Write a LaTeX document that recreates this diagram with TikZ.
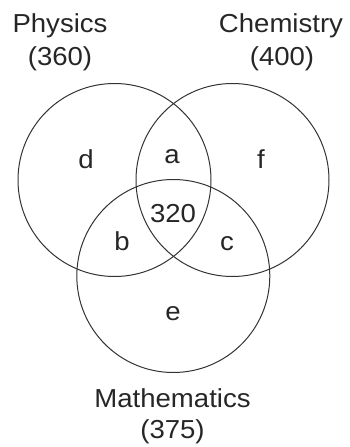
\documentclass[tikz,border=0pt]{standalone}
\usepackage{fontspec}
\setmainfont{Liberation Sans}[FakeStretch=1.06]
\usetikzlibrary{positioning}

\begin{document}
\begin{tikzpicture}[
      x=1pt, y=-1pt,
      font=\fontsize{26}{32}\selectfont,
      setc/.style={draw=black!80, line width=1pt, circle, minimum size=193pt, inner sep=0pt},
      lbl/.style={text=black!85, anchor=base, inner sep=0pt},
    ]
      \useasboundingbox (0,0) rectangle (349,447);
      % the three sets
      \node[setc] (phys) at (114.5,180) {};
      \node[setc] (chem) at (232.5,180) {};
      \node[setc] (math) at (173.3,276) {};
      % set names
      \node[lbl] (physname) at (60,32) {Physics};
      \node[lbl] (physnum) at (60,65) {(360)};
      \node[lbl] (chemname) at (281,32) {Chemistry};
      \node[lbl] (chemnum) at (282,65) {(400)};
      \node[lbl] (mathname) at (172.5,407) {Mathematics};
      \node[lbl] (mathnum) at (172.5,438) {(375)};
      % regions
      \node[lbl] (rd) at (86,168) {d};
      \node[lbl] (ra) at (172,163) {a};
      \node[lbl] (rf) at (261,168) {f};
      \node[lbl] (rall) at (173,222) {320};
      \node[lbl] (rb) at (122,250) {b};
      \node[lbl] (rc) at (227,250) {c};
      \node[lbl] (re) at (173,320) {e};
    \end{tikzpicture}
\end{document}
